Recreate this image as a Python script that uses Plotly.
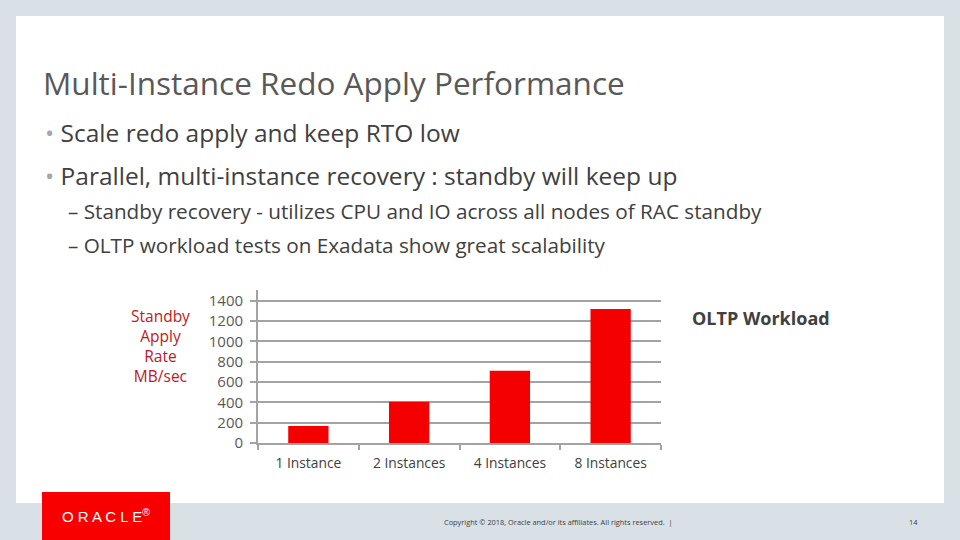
import plotly.graph_objects as go

categories = ["1 Instance", "2 Instances", "4 Instances", "8 Instances"]
apply_rate = [167, 405, 710, 1318]
y_ticks = [0, 200, 400, 600, 800, 1000, 1200, 1400]

title_text = "Multi-Instance Redo Apply Performance"
bullets = ["Scale redo apply and keep RTO low",
           "Parallel, multi-instance recovery : standby will keep up"]
sub_bullets = ["Standby recovery - utilizes CPU and IO across all nodes of RAC standby",
               "OLTP workload tests on Exadata show great scalability"]
y_title_lines = ["Standby", "Apply", "Rate", "MB/sec"]
chart_label = "OLTP Workload"
footer_text = "Copyright © 2018, Oracle and/or its affiliates. All rights reserved.  |"
page_number = "14"
logo_text = "O R A C L E"

W, H = 960, 540
FONT = "Open Sans"
GRID = "#a3a3a3"

def px(x):
    return x / W

def py(y):
    return 1 - y / H

fig = go.Figure()
fig.add_trace(go.Bar(x=categories, y=apply_rate, marker=dict(color="#f50000", line=dict(width=0)),
                     hoverinfo="skip"))

shapes = [
    dict(type="rect", xref="paper", yref="paper", x0=px(16), x1=px(944), y0=py(503), y1=py(16),
         fillcolor="white", line=dict(width=0), layer="below"),
    dict(type="rect", xref="paper", yref="paper", x0=px(42), x1=px(170), y0=py(540), y1=py(492),
         fillcolor="#f80000", line=dict(width=0), layer="above"),
]

def note(text, x, y, size, color, xanchor="left", family=FONT, align="left"):
    return dict(text=text, x=px(x), y=py(y), xref="paper", yref="paper", showarrow=False,
                xanchor=xanchor, yanchor="middle", align=align,
                font=dict(family=family, size=size, color=color))

annotations = [note(title_text, 41, 83, 31.5, "#595959")]
bullet_y = [132, 175]
for t, yy in zip(bullets, bullet_y):
    annotations.append(note("<span style='color:#a6a6a6'>•</span> " + t, 43, yy, 24.5, "#404040"))
sub_y = [211, 245]
for t, yy in zip(sub_bullets, sub_y):
    annotations.append(note("– " + t, 66, yy, 20.7, "#404040"))

annotations.append(note("<br>".join(y_title_lines), 160, 346, 15.5, "#c4161c",
                        xanchor="center", align="center"))
annotations.append(note("<b>" + chart_label + "</b>", 690, 318, 18, "#404040"))
annotations.append(note(footer_text, 558, 522, 7.4, "#404040", xanchor="center"))
annotations.append(note(page_number, 913, 522, 7.4, "#404040", xanchor="center"))
annotations.append(note(logo_text + "<sup>®</sup>", 106, 515, 15, "white", xanchor="center",
                        family="Liberation Sans"))

fig.update_layout(
    width=W, height=H,
    margin=dict(l=0, r=0, t=0, b=0, autoexpand=False),
    paper_bgcolor="#d9e0e6",
    plot_bgcolor="rgba(0,0,0,0)",
    showlegend=False,
    bargap=0.6,
    shapes=shapes,
    annotations=annotations,
    xaxis=dict(domain=[px(258), px(661)], showline=True, linecolor=GRID, linewidth=1.8,
               ticks="outside", tickson="boundaries", ticklen=5, tickcolor=GRID, tickwidth=1.8,
               showgrid=False, ticklabelstandoff=7, automargin=False,
               tickfont=dict(family=FONT, size=13.8, color="#404040"), fixedrange=True),
    yaxis=dict(domain=[py(443), py(290)], range=[0, 1505], tickvals=y_ticks,
               showline=True, linecolor=GRID, linewidth=1.8, ticks="outside", ticklen=6,
               tickcolor=GRID, tickwidth=1.8, showgrid=True, gridcolor=GRID, gridwidth=1.8,
               zeroline=False, ticklabelstandoff=4, automargin=False,
               tickfont=dict(family=FONT, size=15, color="#595959"), fixedrange=True),
)

post = ("document.documentElement.style.margin='0';document.body.style.margin='0';"
        "document.documentElement.style.overflow='hidden';document.body.style.overflow='hidden';")
fig.write_html("out.html", config={"displayModeBar": False}, post_script=post)
